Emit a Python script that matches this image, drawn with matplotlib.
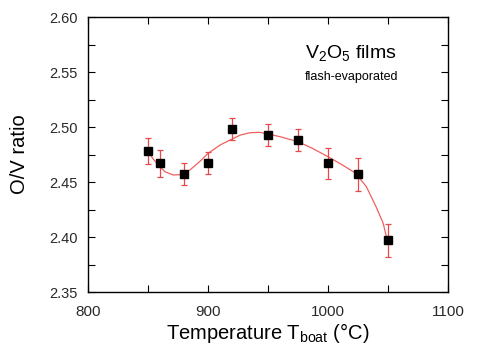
import matplotlib
matplotlib.use("Agg")
import matplotlib.pyplot as plt
from matplotlib.ticker import MultipleLocator, FormatStrFormatter

plt.rcParams["font.family"] = ["Liberation Sans", "DejaVu Sans"]
plt.rcParams["mathtext.fontset"] = "custom"
plt.rcParams["mathtext.rm"] = "Liberation Sans"
plt.rcParams["mathtext.it"] = "Liberation Sans:italic"
plt.rcParams["mathtext.bf"] = "Liberation Sans:bold"

## measured points
temp = [850, 860, 880, 900, 920, 950, 975, 1000, 1025, 1050]
ratio = [2.478, 2.467, 2.457, 2.467, 2.498, 2.493, 2.488, 2.467, 2.457, 2.397]
ratio_err = [0.012, 0.012, 0.010, 0.010, 0.010, 0.010, 0.010, 0.014, 0.015, 0.015]

## fitted curve
fit_temp = [850, 855, 860, 864, 871, 877, 885, 893, 900, 910, 918, 927, 935, 943,
            950, 960, 975, 987, 1000, 1012, 1023, 1032, 1040, 1046, 1049]
fit_ratio = [2.4776, 2.470, 2.464, 2.4594, 2.4564, 2.4567, 2.461, 2.4685, 2.476, 2.4836,
             2.488, 2.4927, 2.4948, 2.4952, 2.4936, 2.4912, 2.4867, 2.4806, 2.473,
             2.4655, 2.458, 2.4457, 2.4276, 2.4124, 2.3988]

fig = plt.figure(figsize=(4.82, 3.59), dpi=100)
ax = fig.add_axes([0.1826, 0.1866, 0.7469, 0.766])

ax.plot(fit_temp, fit_ratio, color="#f06060", lw=0.9, zorder=2)
ax.errorbar(temp, ratio, yerr=ratio_err, fmt="none", ecolor="#e84848",
            elinewidth=0.9, capsize=2, capthick=0.9, zorder=3)
ax.plot(temp, ratio, "s", color="black", markersize=5.5, zorder=4)

ax.set_xlim(800, 1100)
ax.set_ylim(2.35, 2.60)
ax.xaxis.set_major_locator(MultipleLocator(100))
ax.xaxis.set_minor_locator(MultipleLocator(50))
ax.yaxis.set_major_locator(MultipleLocator(0.05))
ax.yaxis.set_minor_locator(MultipleLocator(0.025))
ax.yaxis.set_major_formatter(FormatStrFormatter("%.2f"))

ax.tick_params(which="both", direction="in", top=True, right=True,
               labelcolor="#2a2a2a", width=0.8)
ax.tick_params(which="major", length=5)
ax.tick_params(which="minor", length=5)
ax.tick_params(axis="x", which="major", labelsize=11, pad=9)
ax.tick_params(axis="y", which="major", labelsize=10.5, pad=7.5)
for s in ax.spines.values():
    s.set_linewidth(1.0)

ax.set_xlabel("Temperature T$_{\\mathrm{boat}}$ (°C)", fontsize=14.5)
ax.xaxis.set_label_coords(0.5, -0.105)
ax.set_ylabel("O/V ratio", fontsize=14.5)
ax.yaxis.set_label_coords(-0.165, 0.5)

ax.text(0.729, 0.85, "V$_\\mathrm{2}$O$_\\mathrm{5}$ films", transform=ax.transAxes,
        fontsize=14, ha="center", va="baseline")
ax.text(0.731, 0.771, "flash-evaporated", transform=ax.transAxes,
        fontsize=9, ha="center", va="baseline")

fig.savefig("out.png", dpi=100)
